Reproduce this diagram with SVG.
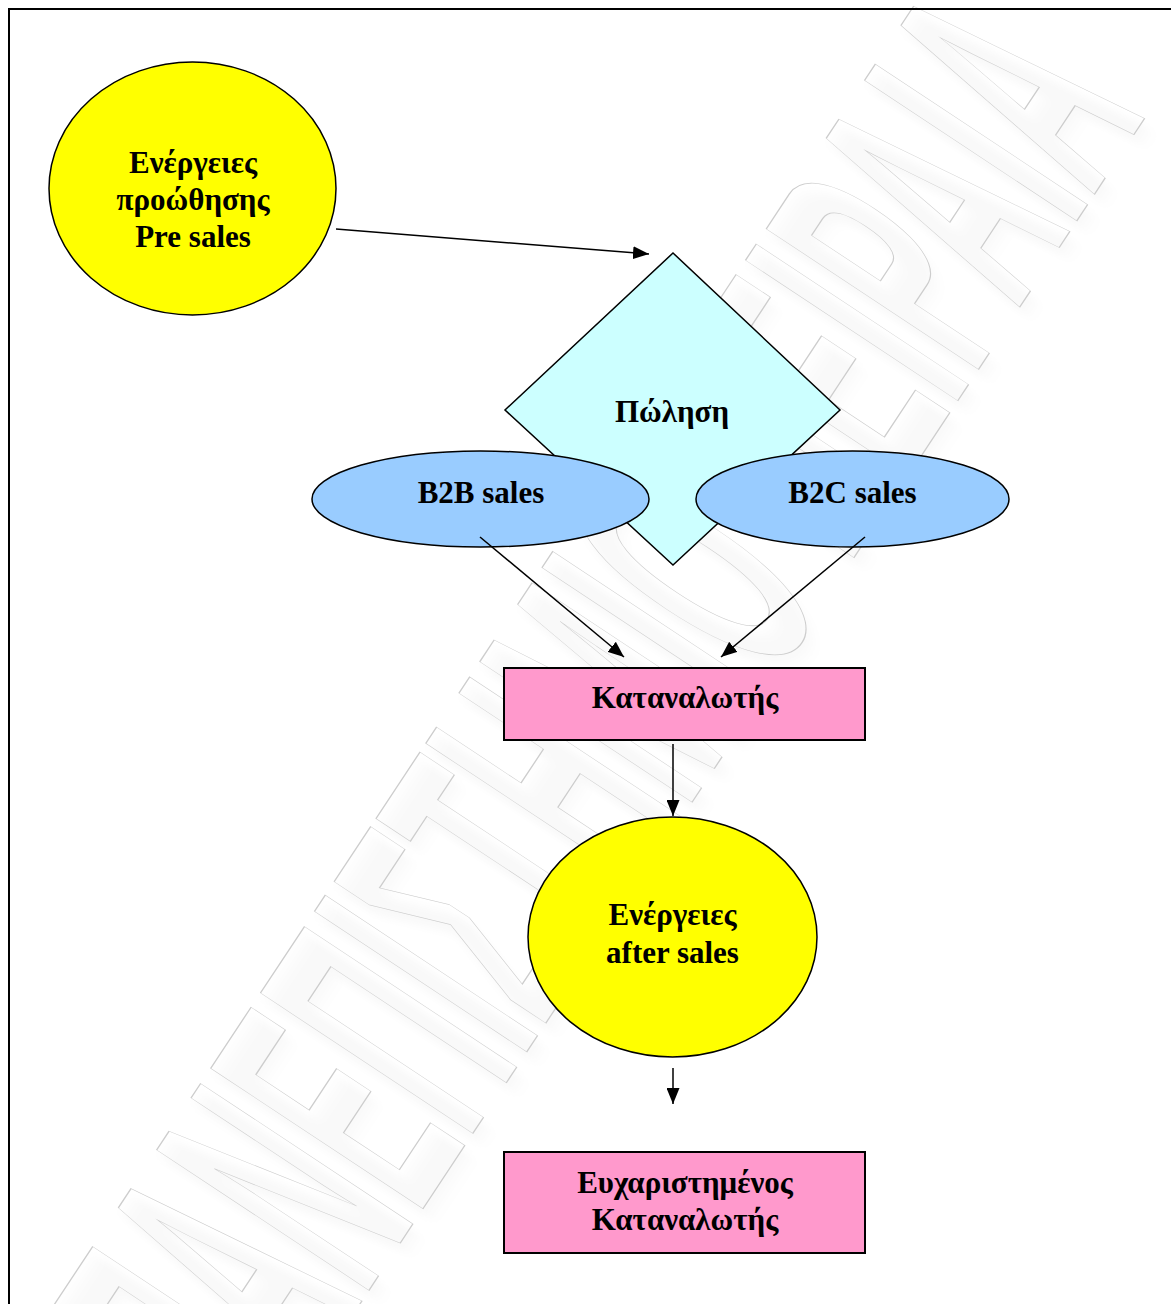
<svg xmlns="http://www.w3.org/2000/svg" width="1171" height="1304" viewBox="0 0 1171 1304">
  <style>
    .lbl { font-family: "Liberation Serif", "Times New Roman", serif; font-weight: bold; font-size: 31px; fill: #000; text-anchor: middle; }
    .shape { stroke: #000; stroke-width: 1.5; }
    .box { fill: #ff99cc; stroke: #000; stroke-width: 2; }
    .yellow { fill: #ffff00; }
    .blue { fill: #99ccff; }
    .conn { fill: none; stroke: #000; stroke-width: 1.5; marker-end: url(#arrow); }
    .wm { font-family: "Liberation Sans", Arial, sans-serif; font-weight: bold; font-size: 370px; }
  </style>
  <defs>
    <marker id="arrow" markerUnits="userSpaceOnUse" markerWidth="17" markerHeight="13" refX="16" refY="6.5" orient="auto">
      <path d="M0,0 L16,6.5 L0,13 z" fill="#000"/>
    </marker>
    <filter id="soft" x="-20%" y="-20%" width="140%" height="140%">
      <feGaussianBlur stdDeviation="8"/>
    </filter>
  </defs>

  <rect width="1171" height="1304" fill="#fff"/>

  <!-- background watermark lettering -->
  <g id="watermark" transform="translate(256,1461) rotate(-56.5) scale(0.366,1)">
    <text class="wm" x="-14" y="10" fill="#000" fill-opacity="0.025" filter="url(#soft)">ΠΑΝΕΠΙΣΤΗΜΙΟ ΠΕΙΡΑΙΑ</text>
    <text class="wm" x="0" y="0" fill="none" stroke="#cdcdcd" stroke-width="1" vector-effect="non-scaling-stroke">ΠΑΝΕΠΙΣΤΗΜΙΟ ΠΕΙΡΑΙΑ</text>
  </g>

  <!-- page frame -->
  <rect x="9" y="9" width="1200" height="1400" fill="none" stroke="#000" stroke-width="2"/>

  <g id="presales">
    <ellipse class="shape yellow" cx="192.5" cy="188.5" rx="143.5" ry="126.5"/>
    <text class="lbl" x="193" y="173">Ενέργειες</text>
    <text class="lbl" x="193" y="210">προώθησης</text>
    <text class="lbl" x="193" y="247">Pre sales</text>
  </g>

  <g id="sale">
    <polygon class="shape" fill="#ccffff" points="673,253 840,410 673,565 505,410"/>
    <text class="lbl" x="672" y="422">Πώληση</text>
  </g>

  <g id="b2b">
    <ellipse class="shape blue" cx="480.5" cy="499" rx="168.5" ry="48"/>
    <text class="lbl" x="481" y="503">B2B sales</text>
  </g>

  <g id="b2c">
    <ellipse class="shape blue" cx="852.5" cy="499" rx="156.5" ry="48"/>
    <text class="lbl" x="852.5" y="503">B2C sales</text>
  </g>

  <g id="consumer">
    <rect class="box" x="504" y="668" width="361" height="72"/>
    <text class="lbl" x="685" y="708">Καταναλωτής</text>
  </g>

  <g id="aftersales">
    <ellipse class="shape yellow" cx="672.5" cy="937" rx="144.5" ry="120"/>
    <text class="lbl" x="672.5" y="925">Ενέργειες</text>
    <text class="lbl" x="672.5" y="963">after sales</text>
  </g>

  <g id="satisfied">
    <rect class="box" x="504" y="1152" width="361" height="101"/>
    <text class="lbl" x="685" y="1193">Ευχαριστημένος</text>
    <text class="lbl" x="685" y="1230">Καταναλωτής</text>
  </g>

  <g id="connectors">
    <line class="conn" x1="336" y1="229" x2="649" y2="254"/>
    <line class="conn" x1="480" y1="537" x2="624" y2="657"/>
    <line class="conn" x1="865" y1="537" x2="721" y2="657"/>
    <line class="conn" x1="673" y1="744" x2="673" y2="816"/>
    <line class="conn" x1="673" y1="1068" x2="673" y2="1104"/>
  </g>
</svg>
